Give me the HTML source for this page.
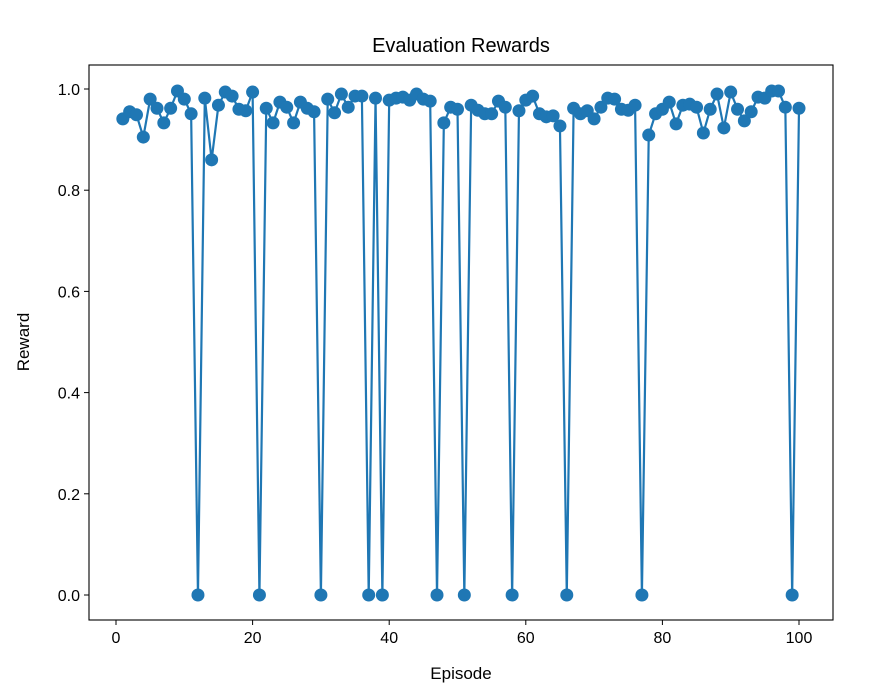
<!DOCTYPE html>
<html><head><meta charset="utf-8"><style>
body{margin:0;background:#fff}
text{font-family:"Liberation Sans","DejaVu Sans",sans-serif;fill:#000}
</style></head><body>
<svg id="chart" width="893" height="687" xmlns="http://www.w3.org/2000/svg">
<rect width="893" height="687" fill="#fff"/>
<text x="461" y="52" font-size="20" text-anchor="middle">Evaluation Rewards</text>
<g id="axes"></g>
<text x="461" y="679" font-size="17" text-anchor="middle">Episode</text>
<text transform="translate(29,342) rotate(-90)" font-size="17" text-anchor="middle">Reward</text>
</svg>
<script>
const episodes=[];for(let i=1;i<=100;i++)episodes.push(i);
const rewards=[0.941,0.955,0.949,0.905,0.980,0.962,0.933,0.962,0.996,0.980,
0.951,0,0.982,0.860,0.968,0.994,0.986,0.960,0.957,0.994,
0,0.962,0.933,0.974,0.964,0.933,0.974,0.962,0.955,0,
0.980,0.953,0.990,0.964,0.986,0.986,0,0.982,0,0.978,
0.982,0.984,0.978,0.990,0.980,0.976,0,0.933,0.964,0.960,
0,0.968,0.958,0.951,0.951,0.976,0.964,0,0.957,0.978,
0.986,0.951,0.945,0.947,0.927,0,0.962,0.951,0.957,0.941,
0.964,0.982,0.980,0.960,0.958,0.968,0,0.909,0.951,0.960,
0.974,0.931,0.968,0.970,0.964,0.913,0.960,0.990,0.923,0.994,
0.960,0.937,0.955,0.984,0.982,0.996,0.996,0.964,0,0.962];
const xTicks=[0,20,40,60,80,100];
const yTicks=[0.0,0.2,0.4,0.6,0.8,1.0];
const L=89,R=833,T=65,B=620;
const xs=v=>116+(799-116)*v/100;
const ys=v=>595-506*v;
const NS="http://www.w3.org/2000/svg";
const g=document.getElementById('axes');
function mk(t,a){const e=document.createElementNS(NS,t);for(const k in a)e.setAttribute(k,a[k]);g.appendChild(e);return e;}
let pts=episodes.map((e,i)=>xs(e)+','+ys(rewards[i])).join(' ');
const line=mk('polyline',{points:pts,fill:'none',stroke:'#1f77b4','stroke-width':2.2});


episodes.forEach((e,i)=>{const c=mk('circle',{cx:xs(e),cy:ys(rewards[i]),r:6.5,fill:'#1f77b4'});

});
const frame=mk('rect',{x:L,y:T,width:R-L,height:B-T,fill:'none',stroke:'#000','stroke-width':1.1});


xTicks.forEach(v=>{mk('line',{x1:xs(v),x2:xs(v),y1:B,y2:B+5,stroke:'#000'});
const t=mk('text',{x:xs(v),y:B+23,'font-size':16,'text-anchor':'middle'});t.textContent=v;

});
yTicks.forEach(v=>{mk('line',{x1:L-5,x2:L,y1:ys(v),y2:ys(v),stroke:'#000'});
const t=mk('text',{x:L-9,y:ys(v)+6,'font-size':16,'text-anchor':'end'});t.textContent=v.toFixed(1);

});
</script>
</body></html>
